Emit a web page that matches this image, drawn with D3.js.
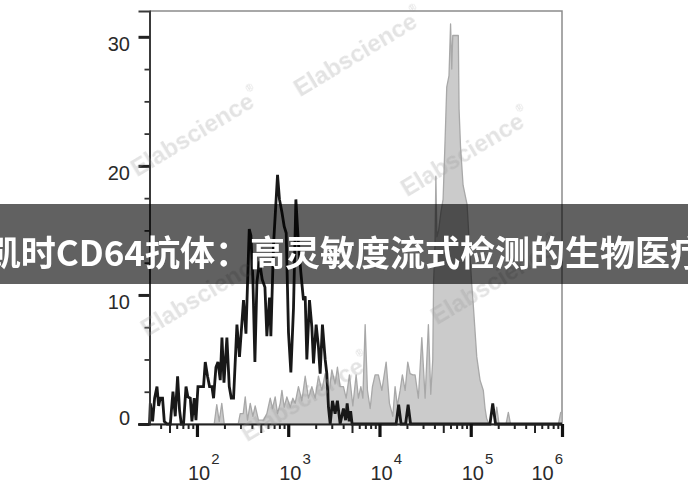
<!DOCTYPE html>
<html><head><meta charset="utf-8">
<script src="https://cdn.jsdelivr.net/npm/d3@7"></script>
<style>html,body{margin:0;padding:0;background:#fff;overflow:hidden}</style>
</head><body><svg id="c" width="688" height="490"></svg>
<script>
// ---- data ----
const yMajorTicks = [0, 10, 20, 30];
const yMinorTicks = [2.5, 5, 7.5, 12.5, 15, 17.5, 22.5, 25, 27.5];
const xDecadeExponents = [2, 3, 4, 5, 6];
const xTickLabelBase = "10";

// control (black line): log10 fluorescence, event count
const blackLog = [1.48,1.489,1.514,1.536,1.562,1.580,1.598,1.623,1.642,1.672,1.708,1.737,1.762,1.788,1.809,1.828,1.853,1.880,1.901,1.927,1.945,1.970,1.989,2.011,2.072,2.091,2.116,2.138,2.164,2.182,2.208,2.230,2.255,2.274,2.296,2.328,2.354,2.376,2.401,2.438,2.466,2.510,2.537,2.573,2.591,2.613,2.635,2.657,2.685,2.715,2.745,2.766,2.795,2.810,2.839,2.883,2.904,2.931,2.956,2.978,3.003,3.029,3.058,3.084,3.109,3.139,3.167,3.186,3.204,3.233,3.259,3.277,3.306,3.331,3.350,3.375,3.405,3.423,3.441,3.460,3.485,3.514,3.539,3.569,3.605,3.629,3.646,3.668,3.684,3.700,4.182,4.210,4.237,4.286,4.314,4.341,5.211,5.241,5.272,6.0];
const blackCount = [0,1.6,0.2,2,2.9,1.4,2,2,0.2,0,0,2.5,0.6,3.7,1.1,0,0,2.9,2.1,2,0.2,2,0.3,2.9,2.9,4.8,3.7,2.9,2.9,2,4.4,4.8,3.4,6.7,3.2,6.7,2.9,2,2,7.7,5.2,9.6,7,15.1,14.6,11.2,4.8,11,12.6,11.2,10.6,6.8,9.8,6.8,13.9,19.3,17.4,16.4,15.3,14.8,7.1,4,9,17.4,14.3,11.7,9.6,9.9,5,9.6,7.5,4.7,7.7,6,3.9,7.7,5,3.9,1.3,0,1.8,0.8,1.8,0,1.2,0.3,1.6,0.2,1,0,0,1.5,0,0,1.5,0,0,1.6,0,0];

// CD64 stained (gray filled)
const grayLog = [1.48,2.189,2.217,2.244,2.272,2.299,2.452,2.474,2.507,2.529,2.554,2.584,2.613,2.638,2.674,2.729,2.766,2.803,2.828,2.857,2.883,2.912,2.931,2.956,2.985,3.022,3.051,3.076,3.112,3.150,3.186,3.222,3.259,3.295,3.331,3.369,3.405,3.441,3.478,3.514,3.539,3.569,3.605,3.635,3.671,3.708,3.744,3.769,3.796,3.818,3.843,3.868,3.898,3.923,3.952,3.988,4.026,4.073,4.109,4.146,4.171,4.196,4.226,4.251,4.281,4.310,4.335,4.365,4.390,4.426,4.464,4.500,4.536,4.562,4.584,4.593,4.609,4.618,4.629,4.648,4.675,4.697,4.719,4.737,4.762,4.779,4.792,4.803,4.864,4.872,4.888,4.916,4.960,4.992,5.011,5.029,5.066,5.102,5.138,5.157,5.175,5.200,5.261,5.285,5.310,5.387,5.412,5.436,5.961,5.986,6.0];
const grayCount = [0,0,1.5,0.2,1.6,0,0,0.8,0.8,2.1,0.3,1.6,0.6,1.4,0.3,0.3,0.8,2,1.2,2.1,0.8,1.6,2.6,1.3,2.1,1.3,2,1.6,2.9,1.8,3.7,2,2.9,2,3.7,2.6,3.9,2,4.2,3.1,4.4,2.9,2.9,2,3.8,1.4,3.8,2,2.9,2,7.7,2.6,1.2,2.9,3.8,3.8,2.6,4.8,1.6,0.6,2.9,1.4,2.6,3.8,2.6,4.8,3.9,3.8,3.8,2,6.7,2,7.7,2.3,5,11,14,19.2,14.5,15,16.5,17.4,22,26.1,27,31,27.5,30.1,30.1,24.4,21.5,18.5,17,13,10.8,9.1,5.2,3.4,2.6,1.2,0.4,0,0,1.3,0,0,0.9,0,0,0.9,0.9];

const watermarkText = "Elabscience";
const bannerText = "凯时CD64抗体：高灵敏度流式检测的生物医疗";

// ---- chart ----
const svg = d3.select("#c");
const x = d3.scaleLog().domain([Math.pow(10, 1.48), 1e6]).range([149.5, 562]);
const y = d3.scaleLinear().domain([0, 32]).range([424, 11]);

const gray = grayLog.map((l, i) => ({v: Math.pow(10, l), c: grayCount[i]}));
const black = blackLog.map((l, i) => ({v: Math.pow(10, l), c: blackCount[i]}));

// frame (top/right thin gray)
svg.append("path")
  .attr("d", `M${x.range()[0]},${y(32)}H${x.range()[1]}V${y(0)}`)
  .attr("fill", "none").attr("stroke", "#8c8c8c").attr("stroke-width", 1.5);

// gray filled histogram
svg.append("path").datum(gray)
  .attr("d", d3.area().x(d => x(d.v)).y0(y(0)).y1(d => y(d.c)))
  .attr("fill", "#cbcbcb").attr("stroke", "#a8a8a8").attr("stroke-width", 1.3)
  .attr("stroke-linejoin", "round");

// black line histogram
svg.append("path").datum(black)
  .attr("d", d3.line().x(d => x(d.v)).y(d => y(d.c)))
  .attr("fill", "none").attr("stroke", "#181818").attr("stroke-width", 2.8)
  .attr("stroke-linejoin", "miter").attr("stroke-miterlimit", 3);

// Y axis
const yMajor = svg.append("g").attr("transform", `translate(${x.range()[0]},0)`)
  .call(d3.axisLeft(y).tickValues(yMajorTicks).tickSize(11).tickFormat(""));
yMajor.select(".domain").attr("stroke", "#3a3a3a").attr("stroke-width", 2);
yMajor.selectAll(".tick line").attr("stroke", "#222").attr("stroke-width", 3);
const yMinor = svg.append("g").attr("transform", `translate(${x.range()[0]},0)`)
  .call(d3.axisLeft(y).tickValues(yMinorTicks).tickSize(5).tickFormat(""));
yMinor.select(".domain").remove();
yMinor.selectAll(".tick line").attr("stroke", "#333").attr("stroke-width", 1.8);

svg.append("g").selectAll("text").data(yMajorTicks).join("text")
  .attr("x", 130).attr("y", d => y(d) + (d === 0 ? -6.5 : 7.5))
  .attr("text-anchor", "end").attr("dominant-baseline", "central")
  .attr("font-family", "Liberation Sans, Arial, sans-serif").attr("font-size", 20)
  .attr("fill", "#2a2a2a").text(d => d);

// X axis
const decades = xDecadeExponents.map(e => Math.pow(10, e));
const minorVals = [];
for (let e = 1; e <= 5; e++) for (let m = 2; m <= 9; m++) {
  const v = m * Math.pow(10, e);
  if (v >= x.domain()[0] && v <= x.domain()[1]) minorVals.push(v);
}
const xMinor = svg.append("g").attr("transform", `translate(0,${y(0)})`)
  .call(d3.axisBottom(x).tickValues(minorVals).tickSize(5).tickFormat(""));
xMinor.select(".domain").remove();
xMinor.selectAll(".tick line").attr("stroke", "#222").attr("stroke-width", 2)
  .attr("y2", d => (String(d)[0] === "5" ? 9 : 5));
const xMajor = svg.append("g").attr("transform", `translate(0,${y(0)})`)
  .call(d3.axisBottom(x).tickValues(decades).tickSize(13).tickFormat(""));
xMajor.select(".domain").attr("d", `M138,0.5H${x.range()[1]}`).attr("stroke", "#222").attr("stroke-width", 2);
xMajor.selectAll(".tick line").attr("stroke", "#111").attr("stroke-width", 3.2);

const xl = svg.append("g").selectAll("text").data(xDecadeExponents).join("text")
  .attr("x", (d, i) => i === xDecadeExponents.length - 1 ? x(Math.pow(10, d)) + 1 : x(Math.pow(10, d)) - 9)
  .attr("y", 480)
  .attr("text-anchor", (d, i) => i === xDecadeExponents.length - 1 ? "end" : "start")
  .attr("font-family", "Liberation Sans, Arial, sans-serif").attr("fill", "#2a2a2a");
xl.append("tspan").attr("font-size", 20).text(xTickLabelBase);
xl.append("tspan").attr("font-size", 15).attr("dy", -16).attr("dx", 1).text(d => d);

// watermarks
const wm = [[195,132],[358,52],[465,152],[205,292],[495,280],[305,397]];
const wg = svg.append("g").attr("fill", "#999").attr("opacity", 0.28)
  .attr("font-family", "Liberation Sans, Arial, sans-serif");
wm.forEach(([cx, cy]) => {
  const t = wg.append("text").attr("transform", `translate(${cx},${cy}) rotate(-31)`)
    .attr("text-anchor", "middle").attr("dominant-baseline", "central")
    .attr("font-size", 24).attr("font-weight", "bold");
  t.append("tspan").text(watermarkText);
  t.append("tspan").attr("font-size", 10).attr("dy", -10).text("®");
});

// banner overlay
svg.append("rect").attr("x", 0).attr("y", 204).attr("width", 688).attr("height", 80)
  .attr("fill", "#000").attr("fill-opacity", 0.62);
const bt = svg.append("text").attr("x", 0).attr("y", 250)
  .attr("dominant-baseline", "central")
  .attr("font-family", "Noto Sans CJK SC, sans-serif").attr("font-weight", "bold")
  .attr("font-size", 35).attr("fill", "#fff").text(bannerText);
const idx = bannerText.indexOf("高");
const p = bt.node().getStartPositionOfChar(idx).x;
bt.attr("x", 250 - p);
</script></body></html>
